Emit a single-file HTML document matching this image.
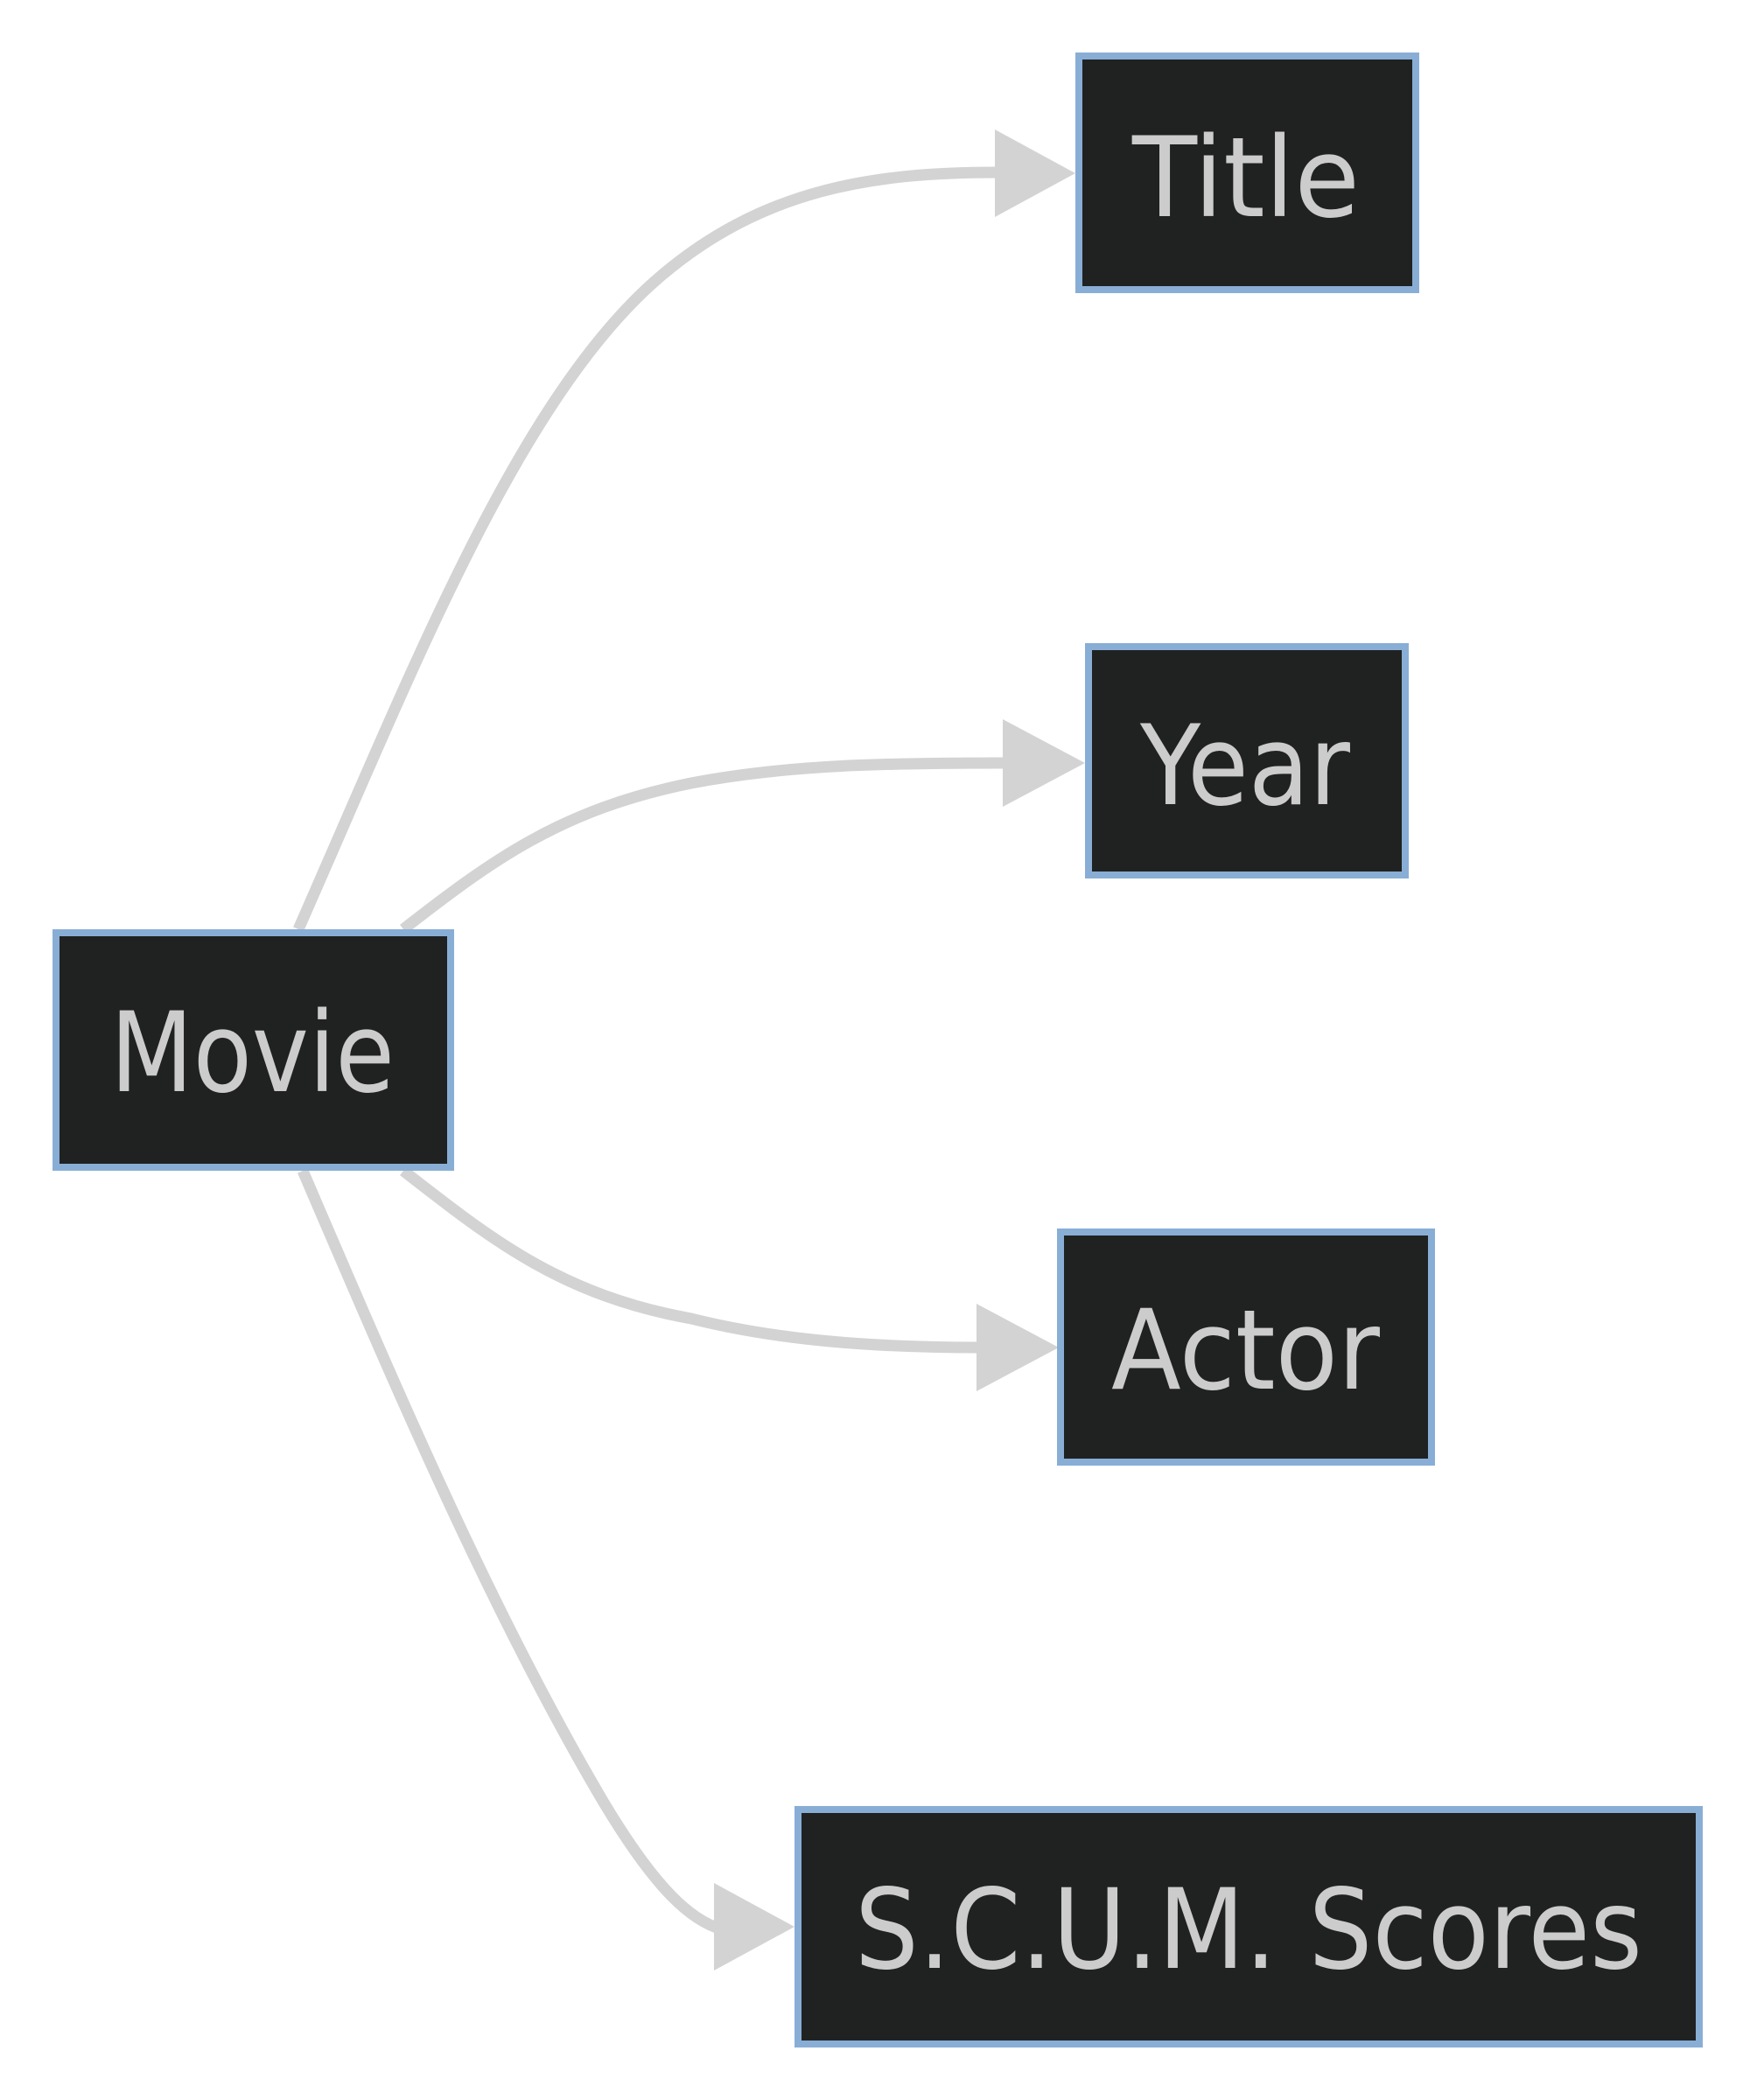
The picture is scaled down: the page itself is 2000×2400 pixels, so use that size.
<!DOCTYPE html>
<html><head><meta charset="utf-8"><style>
html,body{margin:0;padding:0;background:#fff;}
svg{display:block;}
text{font-family:"DejaVu Sans","Liberation Sans",sans-serif;fill:#cccccc;font-size:127px;}
</style></head><body>
<svg width="2000" height="2400" viewBox="0 0 2000 2400" xmlns="http://www.w3.org/2000/svg">
<g fill="none" stroke="#d3d3d3" stroke-width="13">
<path d="M341,1062 C470,770 590,460 750,320 C870,215 1000,197 1140,197"/>
<path d="M461,1062 C560,985 640,925 790,895 C900,874 1010,872 1150,872"/>
<path d="M461,1338 C560,1415 640,1480 790,1507 C890,1532 1000,1540 1120,1540"/>
<path d="M346,1338 C450,1580 560,1840 690,2060 C750,2160 790,2195 825,2205"/>
</g>
<g fill="#d3d3d3">
<polygon points="1137,148 1229,198 1137,248"/>
<polygon points="1146,822 1240,872 1146,922"/>
<polygon points="1116,1490 1210,1540 1116,1590"/>
<polygon points="816,2152 908,2202 816,2252"/>
</g>
<g fill="#202221" stroke="#89aed6" stroke-width="8">
<rect x="64" y="1066" width="451" height="268"/>
<rect x="1233" y="64" width="385" height="267"/>
<rect x="1244" y="739" width="362" height="261"/>
<rect x="1212" y="1408" width="424" height="263"/>
<rect x="912" y="2068" width="1030" height="268"/>
</g>
<text x="126" y="1247" textLength="325" lengthAdjust="spacingAndGlyphs">Movie</text>
<text x="1294" y="247" textLength="260" lengthAdjust="spacingAndGlyphs">Title</text>
<text x="1303" y="919" textLength="240" lengthAdjust="spacingAndGlyphs">Year</text>
<text x="1270" y="1587" textLength="307" lengthAdjust="spacingAndGlyphs">Actor</text>
<text x="977" y="2249" textLength="900" lengthAdjust="spacingAndGlyphs">S.C.U.M. Scores</text>
</svg>
</body></html>
